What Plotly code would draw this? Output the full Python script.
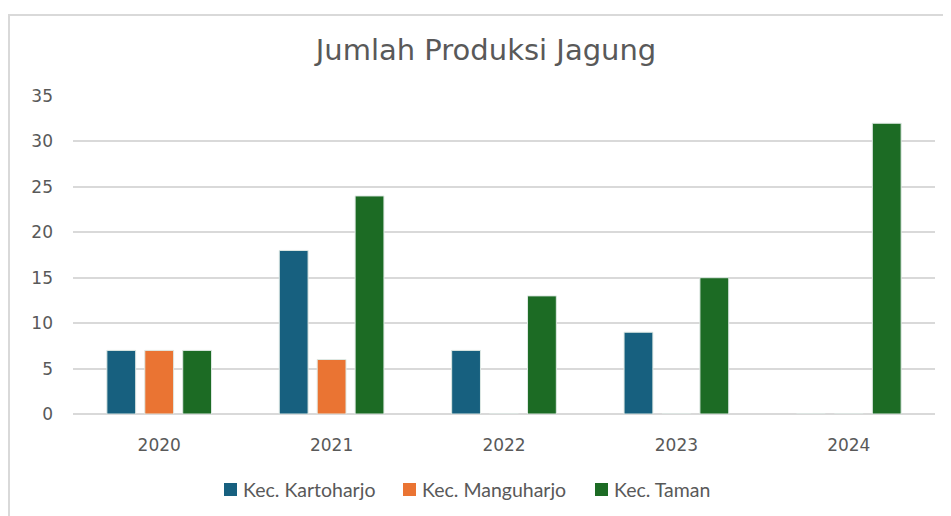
import plotly.graph_objects as go

years = ["2020", "2021", "2022", "2023", "2024"]
kartoharjo = [7, 18, 7, 9, 0]
manguharjo = [7, 6, 0, 0, 0]
taman = [7, 24, 13, 15, 32]
series_names = ["Kec. Kartoharjo", "Kec. Manguharjo", "Kec. Taman"]
colors = ["#17607f", "#ea7433", "#1c6b24"]
y_ticks = [0, 5, 10, 15, 20, 25, 30, 35]

# page has an 8px body margin; figure is sized to fill the rest of the window
OFF = 8
W, H = 951 - OFF, 516 - OFF
L, R, T, B = 73 - OFF, 16, 96 - OFF, 102
pw, ph = W - L - R, H - T - B

fig = go.Figure()
for name, vals, c in zip(series_names, [kartoharjo, manguharjo, taman], colors):
    fig.add_trace(go.Bar(x=years, y=vals, name=name, showlegend=False,
                         marker=dict(color=c, line=dict(color="#dfe9e4", width=1))))

def px_x(p):  # page pixel -> paper x
    return (p - OFF - L) / pw

def px_y(p):  # page pixel -> paper y
    return (H - B - (p - OFF)) / ph

shapes = [dict(type="rect", xref="paper", yref="paper", x0=px_x(9), x1=px_x(970), y0=px_y(540), y1=px_y(15),
               line=dict(color="#d9d9d9", width=2), layer="below")]
annotations = []
# legend (drawn manually to match spacing)
legend_x = [224, 403, 595]
for name, c, lx in zip(series_names, colors, legend_x):
    shapes.append(dict(type="rect", xref="paper", yref="paper", x0=px_x(lx), x1=px_x(lx + 13),
                       y0=px_y(496), y1=px_y(483), fillcolor=c, line=dict(width=0)))
    annotations.append(dict(text=name, xref="paper", yref="paper", x=px_x(lx + 17), y=px_y(489.5),
                            xanchor="left", yanchor="middle", showarrow=False,
                            font=dict(family="Lato", size=19.5, color="#595959")))

fig.update_layout(
    width=W, height=H,
    margin=dict(l=L, r=R, t=T, b=B),
    paper_bgcolor="white", plot_bgcolor="white",
    barmode="group", bargap=0.34, bargroupgap=0.24,
    title=dict(text="Jumlah Produksi Jagung", x=(486 - OFF) / W, xanchor="center",
               y=1 - (50 - OFF) / H, yanchor="middle",
               font=dict(family="DejaVu Sans", size=29, color="#595959")),
    xaxis=dict(showgrid=False, showline=False, ticks="", ticklabelstandoff=19,
               tickfont=dict(family="DejaVu Sans", size=17, color="#595959")),
    yaxis=dict(range=[0, 35], tickvals=y_ticks, showgrid=True, gridcolor="#d9d9d9", gridwidth=2,
               zeroline=True, zerolinecolor="#d9d9d9", zerolinewidth=2, ticks="", ticklabelstandoff=19,
               tickfont=dict(family="DejaVu Sans", size=17, color="#595959")),
    showlegend=False,
    shapes=shapes,
    annotations=annotations,
)
fig.write_html("out.html")
